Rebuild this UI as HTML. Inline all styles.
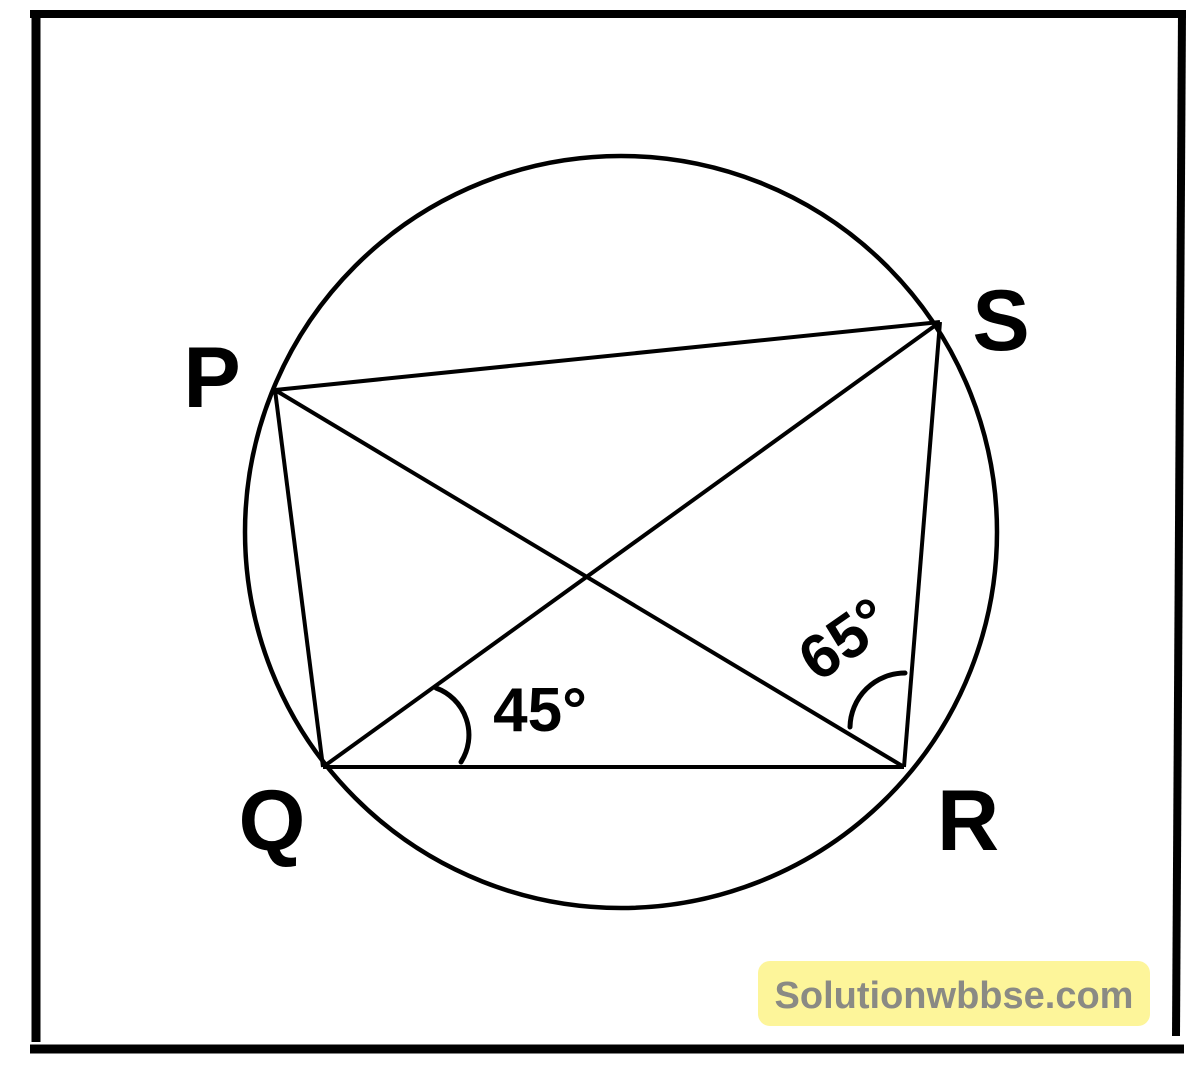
<!DOCTYPE html>
<html><head><style>body{margin:0;background:#fff}svg{display:block}</style></head>
<body>
<svg width="1200" height="1065" viewBox="0 0 1200 1065" xmlns="http://www.w3.org/2000/svg">
<g stroke="#000" stroke-linecap="butt" fill="none">
<line x1="30" y1="14" x2="1186" y2="14" stroke-width="8"/>
<line x1="36" y1="10" x2="36" y2="1042" stroke-width="9"/>
<line x1="1182" y1="12" x2="1176" y2="1036" stroke-width="8"/>
<line x1="30" y1="1049" x2="1184" y2="1049" stroke-width="9"/>
<circle cx="621" cy="532" r="376" stroke-width="4.5"/>
<g stroke-width="4">
<line x1="275" y1="390" x2="940" y2="322"/>
<line x1="275" y1="390" x2="323" y2="767"/>
<line x1="275" y1="390" x2="904" y2="767"/>
<line x1="323" y1="767" x2="940" y2="322"/>
<line x1="323" y1="767" x2="904" y2="767"/>
<line x1="940" y1="322" x2="904" y2="767"/>
</g>
<path d="M436,688 A50,50 0 0 1 461,762" stroke-width="5" stroke-linecap="round"/>
<path d="M905,673 A55,55 0 0 0 850,727" stroke-width="5" stroke-linecap="round"/>
</g>
<g font-family="Liberation Sans, sans-serif" font-weight="bold" fill="#000">
<text x="212" y="407" font-size="86" text-anchor="middle">P</text>
<text x="1001" y="350" font-size="86" text-anchor="middle">S</text>
<text x="272" y="850" font-size="86" text-anchor="middle">Q</text>
<text x="968" y="850" font-size="86" text-anchor="middle">R</text>
<text x="540" y="731" font-size="62" text-anchor="middle">45°</text>
<text x="845" y="660" font-size="62" text-anchor="middle" transform="rotate(-35 845 640)">65°</text>
</g>
<rect x="758" y="961" width="392" height="65" rx="12" fill="#fdf59a"/>
<text x="954" y="1008" font-family="Liberation Sans, sans-serif" font-weight="bold" font-size="38" fill="#8a8a84" text-anchor="middle">Solutionwbbse.com</text>
</svg>
</body></html>
